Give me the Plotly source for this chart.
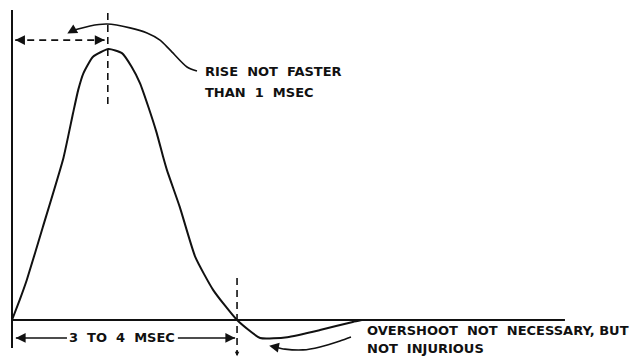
import plotly.graph_objects as go

# --- data (time in ms, amplitude relative to peak) ---
pulse_t = [0, 0.12, 0.23, 0.48, 0.80, 0.95, 1.03, 1.11, 1.26, 1.50, 1.71, 1.86,
           1.99, 2.12, 2.25, 2.35, 2.41, 2.61, 2.85, 3.13, 3.50, 3.86, 4.28,
           4.79, 5.30, 5.44]
pulse_v = [0, 0.074, 0.147, 0.342, 0.596, 0.761, 0.846, 0.907, 0.968, 0.996,
           0.981, 0.931, 0.871, 0.784, 0.688, 0.600, 0.551, 0.415, 0.232, 0.110,
           0, -0.066, -0.063, -0.037, -0.007, 0]

baseline_t = [0, 8.60]
baseline_v = [0, 0]
yaxis_t = [0, 0]
yaxis_v = [1.14, -0.103]

peak_marker_t = [1.49, 1.49]
peak_marker_v = [1.129, 0.779]
rise_span_t = [0.05, 1.44]
rise_span_v = [1.029, 1.029]

rise_note_t = [2.877, 2.722, 2.457, 2.302, 2.100, 1.835, 1.477, 1.213, 0.933]
rise_note_v = [0.915, 0.930, 0.993, 1.029, 1.055, 1.074, 1.088, 1.081, 1.063]
rise_note_tip = (0.86, 1.053)

cross_marker_t = [3.50, 3.50]
cross_marker_v = [0.154, -0.118]

over_note_t = [5.272, 5.101, 4.79, 4.526, 4.246, 4.09]
over_note_v = [-0.0625, -0.077, -0.099, -0.110, -0.107, -0.099]
over_note_tip = (4.0, -0.095)

dur_left_t = [0.855, 0.06]
dur_right_t = [2.58, 3.47]
dur_v = -0.066

rise_text = ["RISE  NOT  FASTER", "THAN  1  MSEC"]
rise_text_pos = (2.97, [0.912, 0.838])
dur_text = "3  TO  4  MSEC"
dur_text_pos = (1.71, -0.066)
over_text = ["OVERSHOOT  NOT  NECESSARY, BUT", "NOT  INJURIOUS"]
over_text_pos = (5.49, [-0.037, -0.103])

INK = "#111111"
FONT = dict(family="DejaVu Sans", size=13, color=INK)

fig = go.Figure()

def line(t, v, width=2, dash=None, shape="linear", smoothing=None):
    l = dict(color=INK, width=width, shape=shape)
    if dash:
        l["dash"] = dash
    if smoothing is not None:
        l["smoothing"] = smoothing
    fig.add_trace(go.Scatter(x=t, y=v, mode="lines", line=l, hoverinfo="skip",
                             cliponaxis=False))

line(yaxis_t, yaxis_v, width=2)
line(baseline_t, baseline_v, width=2.2)
line(pulse_t, pulse_v, width=2, shape="spline", smoothing=0.5)
line(peak_marker_t, peak_marker_v, width=1.6, dash="7px,5px")
line(rise_span_t, rise_span_v, width=1.6, dash="7px,5px")
line(rise_note_t, rise_note_v, width=1.6, shape="spline", smoothing=0.8)
line(cross_marker_t, cross_marker_v, width=1.6, dash="7px,5px")
line(over_note_t, over_note_v, width=1.6, shape="spline", smoothing=0.8)
line(dur_left_t, [dur_v, dur_v], width=1.4)
line(dur_right_t, [dur_v, dur_v], width=1.4)

def head(tip, tail, size=1.3):
    fig.add_annotation(x=tip[0], y=tip[1], ax=tail[0], ay=tail[1],
                       xref="x", yref="y", axref="x", ayref="y", text="",
                       showarrow=True, arrowhead=2, arrowsize=size,
                       arrowwidth=1.5, arrowcolor=INK, standoff=0)

# arrowheads
head((rise_span_t[0], rise_span_v[0]), (rise_span_t[0] + 0.12, rise_span_v[0]))
head((rise_span_t[1], rise_span_v[1]), (rise_span_t[1] - 0.12, rise_span_v[1]))
head(rise_note_tip, (rise_note_t[-1], rise_note_v[-1]))
head(over_note_tip, (over_note_t[-1], over_note_v[-1]))
head((dur_left_t[1], dur_v), (dur_left_t[1] + 0.12, dur_v))
head((dur_right_t[1], dur_v), (dur_right_t[1] - 0.12, dur_v))
head((cross_marker_t[1], cross_marker_v[1] - 0.015), (cross_marker_t[1], cross_marker_v[1] + 0.01), size=0.6)

def label(x, y, s, anchor="left"):
    fig.add_annotation(x=x, y=y, xref="x", yref="y", text="<b>%s</b>" % s,
                       showarrow=False, xanchor=anchor, yanchor="middle", font=FONT)

for s, y in zip(rise_text, rise_text_pos[1]):
    label(rise_text_pos[0], y, s)
label(dur_text_pos[0], dur_text_pos[1], dur_text, anchor="center")
for s, y in zip(over_text, over_text_pos[1]):
    label(over_text_pos[0], y, s)

# page body adds an 8px margin, so the figure covers window pixels 8..638 / 8..362
fig.update_layout(
    width=630, height=354, margin=dict(l=0, r=0, t=0, b=0),
    paper_bgcolor="white", plot_bgcolor="white", showlegend=False,
    xaxis=dict(range=[-0.0622, 9.736], visible=False),
    yaxis=dict(range=[-0.1544, 1.147], visible=False),
)

fig.write_html("out.html")
